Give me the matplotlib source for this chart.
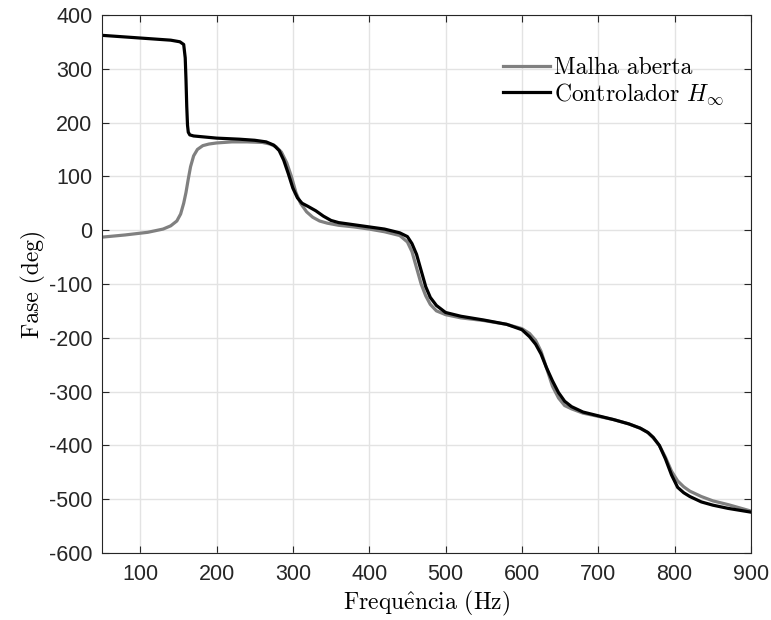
import numpy as np
import matplotlib
matplotlib.use('Agg')
import matplotlib.pyplot as plt

plt.rcParams['mathtext.fontset'] = 'cm'
plt.rcParams['axes.unicode_minus'] = False

# Controlador H_inf (black)
f_ctrl = [50, 80, 110, 140, 152, 157, 159, 160, 161, 162, 163, 165, 170, 185, 200, 230, 250, 265,
          275, 282, 288, 294, 300, 306, 312, 320, 330, 340, 350, 360, 380, 400, 420, 440, 450, 456,
          462, 468, 474, 480, 488, 500, 520, 550, 580, 600, 610, 618, 625, 632, 640, 648, 656, 665,
          680, 700, 720, 740, 755, 765, 772, 780, 788, 796, 804, 812, 820, 835, 850, 870, 900]
fase_ctrl = [362, 359, 356, 353, 350, 345, 320, 280, 230, 195, 182, 177, 175, 173, 171, 169, 167, 164,
             158, 148, 130, 105, 78, 60, 50, 44, 36, 26, 18, 14, 10, 6, 2, -5, -12, -25,
             -45, -75, -105, -125, -140, -153, -160, -167, -175, -185, -198, -212, -230, -255, -280, -302, -318, -328,
             -338, -345, -352, -360, -368, -376, -385, -400, -425, -455, -478, -488, -495, -505, -511, -517, -524]

# Malha aberta (gray)
f_ma = [50, 80, 110, 130, 140, 148, 153, 157, 160, 163, 166, 170, 175, 182, 190, 200, 220, 240, 260,
        270, 278, 285, 292, 298, 304, 310, 318, 326, 335, 345, 360, 380, 400, 420, 440, 450, 456, 462,
        468, 474, 480, 488, 500, 520, 550, 580, 600, 610, 618, 625, 632, 640, 648, 656, 665, 680, 700,
        720, 740, 755, 765, 772, 780, 788, 796, 804, 812, 820, 835, 850, 870, 900]
fase_ma = [-13, -9, -4, 2, 8, 17, 30, 50, 70, 95, 118, 138, 150, 157, 160, 162, 164, 164, 163,
           160, 155, 145, 125, 100, 70, 50, 34, 24, 17, 13, 9, 6, 2, -3, -10, -22, -40, -70,
           -100, -122, -138, -150, -157, -163, -168, -175, -183, -192, -205, -225, -255, -290, -312, -326, -332, -340, -346,
           -352, -360, -368, -376, -386, -400, -422, -448, -466, -477, -485, -495, -503, -510, -522]

fig = plt.figure(figsize=(7.71, 6.2), dpi=100)
ax = fig.add_axes([0.1323, 0.108, 0.8417, 0.868])

ax.plot(f_ma, fase_ma, color='#808080', lw=2.3, label='Malha aberta')
ax.plot(f_ctrl, fase_ctrl, color='black', lw=2.3, label=r'Controlador $H_\infty$')

ax.set_xlim(50, 900)
ax.set_ylim(-600, 400)
ax.set_xticks(np.arange(100, 901, 100))
ax.set_yticks(np.arange(-600, 401, 100))
ax.grid(True, color='#e3e3e3', lw=1.0)
ax.set_axisbelow(True)
for s in ax.spines.values():
    s.set_color('#262626')
    s.set_linewidth(0.8)
ax.tick_params(direction='in', length=5, color='#262626', labelcolor='#262626',
               top=True, right=True, labelsize=15.5)
ax.tick_params(axis='x', pad=8)
ax.tick_params(axis='y', pad=7)
for t in ax.get_xticklabels() + ax.get_yticklabels():
    t.set_family('Liberation Sans')

serif = ['cmr10', 'DejaVu Serif']
ax.set_xlabel(r'Frequ$\hat{\mathrm{e}}$ncia (Hz)', family=serif, fontsize=17, labelpad=3)
ax.set_ylabel('Fase (deg)', family=serif, fontsize=17, labelpad=2)

leg = ax.legend(loc='upper left', bbox_to_anchor=(0.599, 0.944), frameon=False, borderpad=0,
                handlelength=2.0, handletextpad=0.2, labelspacing=0.1,
                prop={'family': serif, 'size': 17})

fig.savefig('out.png', dpi=100)
